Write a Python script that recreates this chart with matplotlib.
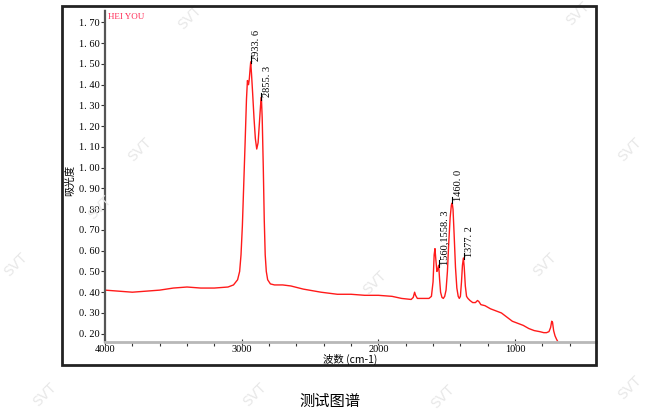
import numpy as np
import matplotlib.pyplot as plt
from matplotlib.patches import Rectangle

plt.rcParams['font.family'] = ['Liberation Serif', 'Noto Sans CJK SC', 'DejaVu Sans']

# spectrum: wavenumber (cm-1) and absorbance
WAVENUMBER = [4000, 3900, 3800, 3700, 3600, 3500, 3400, 3300, 3200, 3100,
              3060, 3030, 3015, 3005, 2995, 2985, 2975, 2965, 2958, 2950,
              2944, 2938, 2934, 2928, 2920, 2910, 2900, 2890, 2880, 2870,
              2862, 2856, 2850, 2842, 2835, 2828, 2820, 2810, 2790, 2760,
              2700, 2640, 2550, 2420, 2300, 2200, 2100, 2000, 1900, 1830,
              1760, 1745, 1735, 1728, 1715, 1680, 1630, 1612, 1600, 1592,
              1586, 1580, 1572, 1565, 1559, 1552, 1545, 1535, 1525, 1515,
              1505, 1495, 1485, 1475, 1466, 1460, 1454, 1446, 1436, 1426,
              1416, 1408, 1400, 1392, 1385, 1378, 1372, 1364, 1355, 1345,
              1330, 1310, 1290, 1275, 1265, 1250, 1220, 1180, 1140, 1100,
              1060, 1020, 980, 940, 900, 860, 820, 790, 770, 752,
              740, 732, 726, 718, 708, 698, 690]
ABSORBANCE = [0.41, 0.405, 0.40, 0.405, 0.41, 0.42, 0.425, 0.42, 0.42, 0.425,
              0.435, 0.46, 0.50, 0.58, 0.72, 0.92, 1.12, 1.33, 1.42, 1.40,
              1.43, 1.48, 1.51, 1.45, 1.36, 1.24, 1.14, 1.09, 1.12, 1.22,
              1.30, 1.34, 1.24, 1.00, 0.75, 0.58, 0.50, 0.46, 0.44, 0.435,
              0.435, 0.43, 0.415, 0.40, 0.39, 0.39, 0.385, 0.385, 0.38, 0.37,
              0.365, 0.375, 0.40, 0.385, 0.37, 0.37, 0.37, 0.38, 0.45, 0.58,
              0.61, 0.56, 0.50, 0.51, 0.53, 0.46, 0.40, 0.375, 0.37, 0.38,
              0.41, 0.50, 0.64, 0.76, 0.82, 0.83, 0.80, 0.68, 0.52, 0.42,
              0.38, 0.37, 0.38, 0.45, 0.53, 0.565, 0.52, 0.43, 0.38, 0.37,
              0.36, 0.35, 0.35, 0.36, 0.355, 0.34, 0.335, 0.32, 0.31, 0.30,
              0.28, 0.26, 0.25, 0.24, 0.225, 0.215, 0.21, 0.205, 0.205, 0.21,
              0.23, 0.26, 0.255, 0.215, 0.19, 0.175, 0.165]

# labelled peaks (the 1560/1558.3 pair is printed on top of each other)
PEAK_POS = [2933.6, 2855.3, 1558.3, 1460.0, 1377.2]
PEAK_TXT = ['2933. 6', '2855. 3', '1560,1558. 3', '1460. 0', '1377. 2']

Y_TICKS = [0.2, 0.3, 0.4, 0.5, 0.6, 0.7, 0.8, 0.9, 1.0, 1.1, 1.2, 1.3, 1.4, 1.5, 1.6, 1.7]
X_TICKS = [4000, 3000, 2000, 1000]

fig = plt.figure(figsize=(6.57, 4.15), dpi=100)
ax = fig.add_axes([105 / 657, 73 / 415, 491 / 657, 332 / 415])

ax.plot(WAVENUMBER, ABSORBANCE, color='#ff1a1a', lw=1.0)

ax.set_xlim(4000, 408)
ax.set_ylim(0.16, 1.76)

ax.set_yticks(Y_TICKS)
ax.set_yticklabels(['%d. %02d' % (int(v), round(v * 100) % 100) for v in Y_TICKS])
ax.set_xticks(X_TICKS)
ax.set_xticklabels([str(v) for v in X_TICKS])
ax.set_xticks(np.arange(4000, 400, -200), minor=True)
ax.tick_params(axis='both', labelsize=7.5, length=3, width=0.8, color='#333333', pad=1)
ax.tick_params(axis='x', which='minor', length=3, width=0.8, color='#333333')
ax.tick_params(axis='x', direction='inout', length=5, pad=0)

for s in ['top', 'right']:
    ax.spines[s].set_visible(False)
ax.spines['left'].set_linestyle((0, (1, 1)))
ax.spines['left'].set_linewidth(1.6)
ax.spines['left'].set_color('#555555')
ax.spines['bottom'].set_color('#b8b8b8')
ax.spines['bottom'].set_linewidth(2)

# peak labels with short leaders
for pos, txt in zip(PEAK_POS, PEAK_TXT):
    yv = np.interp(-pos, -np.array(WAVENUMBER), ABSORBANCE)
    ax.plot([pos, pos], [yv, yv + 0.03], color='black', lw=0.8)
    ax.annotate(txt, (pos, yv + 0.01), xytext=(1, 0), textcoords='offset points',
                rotation=90, ha='left', va='bottom', fontsize=7.5)

ax.text(0.006, 0.99, 'HEI YOU', transform=ax.transAxes, color='#ff2a55',
        fontsize=6.5, ha='left', va='top')

fig.text(70 / 657, 1 - 180 / 415, '吸光度', rotation=90, fontsize=7.5,
         ha='center', va='center', family=['Noto Sans CJK SC'])
fig.text(350 / 657, 1 - 359 / 415, '波数 (cm-1)', fontsize=7.5,
         ha='center', va='center', family=['Noto Sans CJK SC', 'DejaVu Sans'])
fig.text(330 / 657, 1 - 401 / 415, '测试图谱', fontsize=11,
         ha='center', va='center', family=['Noto Sans CJK SC'])

# outer frame
fig.patches.append(Rectangle((62 / 657, 1 - 365 / 415), 534 / 657, 359 / 415,
                             transform=fig.transFigure, fill=False,
                             edgecolor='#222222', lw=2))

# faint watermarks
for wx, wy in [(190, 18), (578, 14), (140, 150), (630, 150), (100, 208),
               (16, 265), (375, 283), (545, 265), (45, 395), (443, 397),
               (630, 388), (255, 395)]:
    fig.text(wx / 657, 1 - wy / 415, 'SVT', rotation=45, fontsize=10,
             color='#e8e8e8', ha='center', va='center', zorder=0,
             family=['DejaVu Sans'])

fig.savefig('out.png', dpi=100)
